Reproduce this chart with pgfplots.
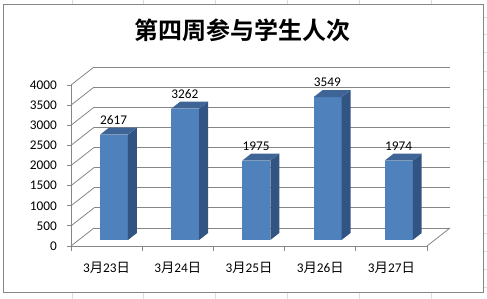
\documentclass[border=0pt]{standalone}
\usepackage{pgfplots}
\pgfplotsset{compat=1.18}
\usepackage{fontspec}
\setmainfont{Carlito}
\newfontfamily\cjk{Noto Sans CJK SC}
\newfontfamily\song{Noto Sans CJK SC Bold}
\definecolor{gridgray}{RGB}{134,134,134}
\definecolor{cellgray}{RGB}{218,220,222}
\definecolor{barfront}{RGB}{79,129,189}
\definecolor{barside}{RGB}{50,84,130}
\definecolor{bartop}{RGB}{62,101,150}
\newcommand{\lab}{\fontsize{13.3}{15}\selectfont}
\begin{document}
\begin{tikzpicture}[x=1pt,y=1pt]
\path[use as bounding box] (0,0) rectangle (487,299);
% spreadsheet cell lines outside the chart
\foreach \xx in {72,143,215,287,359,431} {
  \draw[cellgray,line width=0.8pt] (\xx,294) -- (\xx,299);
  \draw[cellgray,line width=0.8pt] (\xx,0) -- (\xx,6);
}
\foreach \yy in {17,34,52,71,89,107,125,143,161,179,197,215,233,251,269,287} {
  \draw[cellgray,line width=0.8pt] (483,299-\yy) -- (487,299-\yy);
}
\draw[gridgray,line width=1pt] (3,6) rectangle (483,294);
\node[font=\song\fontsize{24}{28}\selectfont] at (242.5,269) {第四周参与学生人次};
\begin{axis}[
  at={(71pt,53pt)}, anchor=south west,
  scale only axis, width=356pt, height=161pt,
  xmin=0, xmax=5, ymin=0, ymax=4000,
  clip=false,
  axis lines*=left,
  axis line style={gridgray, line width=0.9pt},
  xtick={0.5,1.5,2.5,3.5,4.5},
  xticklabels={3{\cjk 月}23{\cjk 日},3{\cjk 月}24{\cjk 日},3{\cjk 月}25{\cjk 日},3{\cjk 月}26{\cjk 日},3{\cjk 月}27{\cjk 日}},
  xtick style={draw=none},
  ytick={0,500,...,4000},
  ytick style={draw=none},
  xticklabel style={font=\lab, anchor=center, yshift=-22pt},
  yticklabel style={font=\lab, anchor=east, inner sep=0pt, xshift=-14pt},
  /pgf/number format/assume math mode=true,
  /pgf/number format/1000 sep={},
  scaled y ticks=false,
]
% back wall gridlines and left wall diagonals
\pgfplotsinvokeforeach{0,500,1000,1500,2000,2500,3000,3500,4000}{
  \draw[gridgray,line width=0.8pt] (axis cs:0.323,#1+447) -- (axis cs:5.323,#1+447);
  \draw[gridgray,line width=0.8pt] (axis cs:0,#1) -- (axis cs:0.323,#1+447);
  \draw[gridgray,line width=0.8pt] (axis cs:0,#1) -- ++(-4pt,0);
}
\draw[gridgray,line width=0.8pt] (axis cs:5,0) -- (axis cs:5.323,447);
\pgfplotsinvokeforeach{0,1,2,3,4,5}{
  \draw[gridgray,line width=0.8pt] (axis cs:#1,0) -- ++(0,-5pt);
}
% bars: front faces
\addplot[fill=barfront, draw=none] coordinates {(0.407,149) (0.800,149) (0.800,2766) (0.407,2766)} -- cycle;
\addplot[fill=barfront, draw=none] coordinates {(1.407,149) (1.800,149) (1.800,3411) (1.407,3411)} -- cycle;
\addplot[fill=barfront, draw=none] coordinates {(2.407,149) (2.800,149) (2.800,2124) (2.407,2124)} -- cycle;
\addplot[fill=barfront, draw=none] coordinates {(3.407,149) (3.800,149) (3.800,3698) (3.407,3698)} -- cycle;
\addplot[fill=barfront, draw=none] coordinates {(4.407,149) (4.800,149) (4.800,2123) (4.407,2123)} -- cycle;
% side faces
\addplot[fill=barside, draw=none] coordinates {(0.800,149) (0.926,323) (0.926,2940) (0.800,2766)} -- cycle;
\addplot[fill=barside, draw=none] coordinates {(1.800,149) (1.926,323) (1.926,3585) (1.800,3411)} -- cycle;
\addplot[fill=barside, draw=none] coordinates {(2.800,149) (2.926,323) (2.926,2298) (2.800,2124)} -- cycle;
\addplot[fill=barside, draw=none] coordinates {(3.800,149) (3.926,323) (3.926,3872) (3.800,3698)} -- cycle;
\addplot[fill=barside, draw=none] coordinates {(4.800,149) (4.926,323) (4.926,2297) (4.800,2123)} -- cycle;
% top faces
\addplot[fill=bartop, draw=none] coordinates {(0.407,2766) (0.800,2766) (0.926,2940) (0.533,2940)} -- cycle;
\addplot[fill=bartop, draw=none] coordinates {(1.407,3411) (1.800,3411) (1.926,3585) (1.533,3585)} -- cycle;
\addplot[fill=bartop, draw=none] coordinates {(2.407,2124) (2.800,2124) (2.926,2298) (2.533,2298)} -- cycle;
\addplot[fill=bartop, draw=none] coordinates {(3.407,3698) (3.800,3698) (3.926,3872) (3.533,3872)} -- cycle;
\addplot[fill=bartop, draw=none] coordinates {(4.407,2123) (4.800,2123) (4.926,2297) (4.533,2297)} -- cycle;
% value labels
\node[font=\lab, anchor=south, inner sep=0pt, yshift=3pt] at (axis cs:0.6,2940) {2617};
\node[font=\lab, anchor=south, inner sep=0pt, yshift=3pt] at (axis cs:1.6,3585) {3262};
\node[font=\lab, anchor=south, inner sep=0pt, yshift=3pt] at (axis cs:2.6,2298) {1975};
\node[font=\lab, anchor=south, inner sep=0pt, yshift=3pt] at (axis cs:3.6,3872) {3549};
\node[font=\lab, anchor=south, inner sep=0pt, yshift=3pt] at (axis cs:4.6,2297) {1974};
\end{axis}
\end{tikzpicture}
\end{document}
